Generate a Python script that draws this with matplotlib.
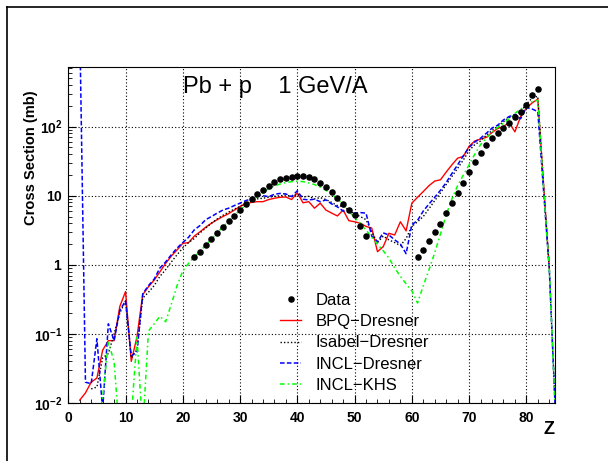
import numpy as np
import matplotlib
matplotlib.use('Agg')
import matplotlib.pyplot as plt
from matplotlib.lines import Line2D
from matplotlib.ticker import FixedLocator, FixedFormatter, LogLocator, NullFormatter

plt.rcParams['font.family'] = ['Liberation Sans', 'DejaVu Sans']
plt.rcParams['mathtext.fontset'] = 'custom'
plt.rcParams['mathtext.rm'] = 'Liberation Sans'
plt.rcParams['mathtext.bf'] = 'Liberation Sans:bold'

#%% datos: Pb + p a 1 GeV/A, seccion eficaz vs Z
z_data = list(range(22, 53)) + list(range(61, 83))
cs_data = [1.31, 1.55, 1.94, 2.34, 2.92, 3.56, 4.26, 5.13, 6.2, 7.5,
           8.87, 10.5, 12.1, 13.8, 15.6, 17.3, 18.0, 18.8, 19.5, 19.5,
           18.8, 17.3, 15.4, 13.5, 11.3, 9.35, 7.5, 6.2, 5.25, 3.7, 2.62,
           1.28, 1.64, 2.23, 2.95, 3.9, 5.56, 7.76, 10.8, 15.1, 22.2,
           31, 41, 54, 67.6, 81, 94, 114, 138, 164, 204, 287, 350]

z_bpq = list(range(2, 85))
cs_bpq = [0.011, 0.014, 0.020, 0.023, 0.058, 0.08, 0.08, 0.25, 0.41, 0.040,
          0.091, 0.37, 0.48, 0.60, 0.79, 1.05, 1.34, 1.64, 2.05, 2.09,
          2.6, 3.0, 3.5, 4.0, 4.5, 5.0, 5.5, 6.2, 7.0, 7.7,
          8.0, 8.2, 8.2, 8.8, 9.2, 9.5, 9.6, 8.8, 11.0, 7.9,
          8.2, 6.6, 7.8, 6.2, 5.6, 5.1, 6.2, 4.35, 4.2, 4.0,
          3.6, 3.4, 1.55, 1.83, 2.86, 2.7, 4.2, 3.1, 7.8, 9.5,
          11.5, 14, 16.3, 17, 22, 28, 35, 37, 52, 62,
          66, 70, 82, 94, 100, 115, 84, 140, 185, 220,
          250, 15, 0.9]

z_isabel = list(range(4, 86))
cs_isabel = [0.016, 0.017, 0.045, 0.052, 0.10, 0.2, 0.30, 0.045, 0.06, 0.33,
             0.40, 0.50, 0.68, 0.85, 1.1, 1.4, 1.75, 2.1, 2.4, 2.9,
             3.4, 4.0, 4.6, 5.2, 5.8, 6.4, 7.0, 7.8, 8.4, 9.0,
             9.2, 9.5, 9.8, 10.0, 10.2, 9.8, 10.5, 9.6, 9.8, 9.0,
             9.4, 8.8, 8.0, 7.2, 7.0, 6.2, 5.5, 5.0, 4.5, 3.0,
             2.1, 2.6, 2.3, 2.1, 1.9, 2.4, 3.6, 4.2, 5.0, 6.5,
             8.5, 11, 14.5, 19, 25, 33, 45, 55, 62, 75,
             88, 100, 118, 135, 145, 165, 210, 260, 275, 14,
             0.9, 0.01]

z_incl = list(range(2, 86))
cs_incl = [3000, 0.02, 0.019, 0.085, 0.008, 0.14, 0.08, 0.22, 0.30, 0.048,
           0.055, 0.38, 0.50, 0.62, 0.9, 1.1, 1.4, 1.75, 2.1, 2.5,
           3.2, 3.7, 4.5, 5.0, 5.6, 6.2, 6.6, 7.2, 7.8, 8.5,
           9.0, 10.2, 10.0, 9.7, 10.5, 10.8, 10.6, 9.7, 11.8, 8.9,
           8.7, 8.9, 8.2, 8.7, 7.6, 6.9, 6.0, 5.9, 5.6, 5.7,
           5.6, 2.6, 2.15, 2.9, 2.7, 2.3, 2.0, 1.45, 3.8, 4.4,
           6.0, 7.6, 9.5, 12, 15.5, 21, 28, 38, 50, 60,
           68, 80, 95, 105, 125, 140, 150, 130, 190, 180,
           165, 12, 0.9, 0.01]

z_khs = list(range(5, 86))
cs_khs = [0.004, 0.012, 0.075, 0.04, 0.003, 0.003, 0.006, 0.09, 0.004, 0.11,
          0.14, 0.18, 0.15, 0.27, 0.5, 0.82, 1.05, 1.3, 1.55, 1.94,
          2.34, 2.92, 3.56, 4.26, 5.13, 6.2, 7.3, 8.5, 9.8, 11.2,
          12.6, 13.8, 14.8, 15.5, 16.0, 16.2, 16.0, 15.3, 14.5, 13.3,
          12.0, 10.5, 9.0, 7.5, 6.0, 4.8, 4.0, 3.2, 2.5, 2.0,
          1.6, 1.25, 0.9, 0.68, 0.53, 0.42, 0.28, 0.5, 0.85, 1.5,
          2.8, 5.3, 9.0, 14, 20, 28, 40, 55, 68, 82,
          98, 112, 130, 155, 180, 200, 230, 240, 13, 0.9,
          0.01]

y_ticks = [1e-2, 1e-1, 1, 10, 100]
y_ticklabels = [r'$\mathbf{10^{-2}}$', r'$\mathbf{10^{-1}}$', r'$\mathbf{1}$',
                r'$\mathbf{10}$', r'$\mathbf{10^{2}}$']

#%% grafico
fig = plt.figure(figsize=(6.08, 4.61), dpi=100)
ax = fig.add_axes([0.1123, 0.1258, 0.8005, 0.7289])

ax.plot(z_bpq, cs_bpq, color='#ff0000', lw=1.0, label='BPQ-Dresner')
ax.plot(z_isabel, cs_isabel, color='black', lw=1.0, ls=(0, (1, 1.5)), label='Isabel-Dresner')
ax.plot(z_incl, cs_incl, color='#0000ff', lw=1.1, ls=(0, (3, 1.5)), label='INCL-Dresner')
ax.plot(z_khs, cs_khs, color='#00ff00', lw=1.1, ls=(0, (3, 2, 1, 2)), label='INCL-KHS')
ax.plot(z_data, cs_data, 'o', color='black', ms=3.7, label='Data')

ax.set_yscale('log')
ax.set_xlim(0, 85)
ax.set_ylim(0.01, 730)

ax.xaxis.set_major_locator(FixedLocator(range(0, 90, 10)))
ax.xaxis.set_minor_locator(FixedLocator(range(0, 86, 2)))
ax.yaxis.set_major_locator(FixedLocator(y_ticks))
ax.yaxis.set_major_formatter(FixedFormatter(y_ticklabels))
ax.yaxis.set_minor_locator(LogLocator(base=10, subs=np.arange(2, 10)))
ax.yaxis.set_minor_formatter(NullFormatter())

ax.tick_params(axis='both', which='both', direction='in', top=False, right=False)
ax.tick_params(axis='x', which='major', length=6, labelsize=10, pad=6)
ax.tick_params(axis='x', which='minor', length=3)
ax.tick_params(axis='y', which='major', length=6, labelsize=10, pad=4)
ax.tick_params(axis='y', which='minor', length=3)
for lab in ax.get_xticklabels():
    lab.set_fontweight('bold')

ax.grid(True, which='major', color='black', ls=(0, (1, 2)), lw=0.8)

ax.set_xlabel('Z', fontsize=13, fontweight='bold', loc='right')
ax.xaxis.set_label_coords(1.0, -0.055)
ax.set_ylabel('Cross Section (mb)', fontsize=10.5, fontweight='bold', loc='top')
ax.yaxis.set_label_coords(-0.063, 0.93)

ax.text(0.236, 0.9217, 'Pb + p    1 GeV/A', transform=ax.transAxes, fontsize=17,
        va='baseline', ha='left')

# leyenda en el orden del original
h, l = ax.get_legend_handles_labels()
orden = [4, 0, 1, 2, 3]
ax.legend([h[i] for i in orden], ['Data', 'BPQ\u2212Dresner', 'Isabel\u2212Dresner',
          'INCL\u2212Dresner', 'INCL\u2212KHS'],
          loc='upper left', bbox_to_anchor=(0.436, 0.327), frameon=False,
          fontsize=12, handlelength=1.26, handletextpad=0.82, labelspacing=0.37,
          borderpad=0, borderaxespad=0)

# borde del canvas
fig.add_artist(Line2D([6.7 / 608, 1.0], [1 - 6.7 / 461] * 2, color='black', lw=1.2))
fig.add_artist(Line2D([6.7 / 608] * 2, [0, 1 - 6.7 / 461], color='black', lw=1.2))

fig.savefig('out.png', dpi=100)
